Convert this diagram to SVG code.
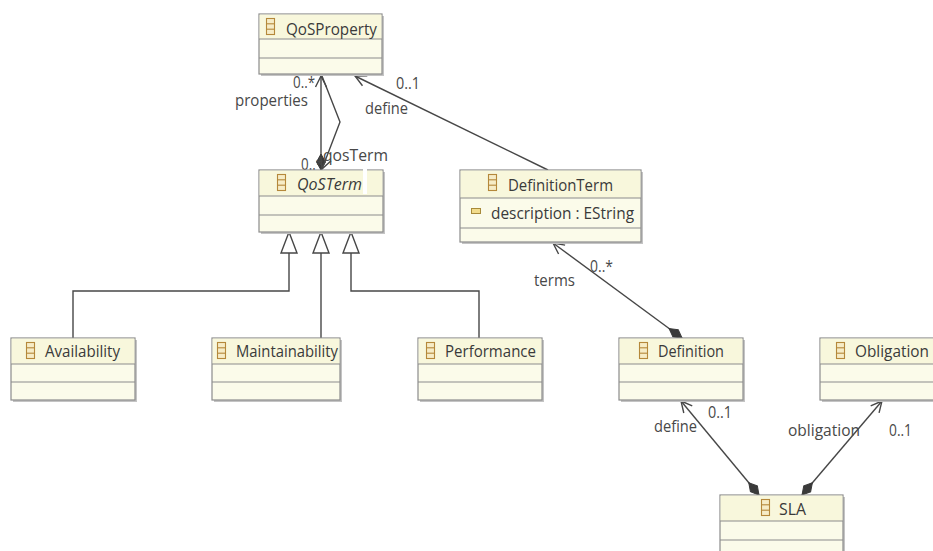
<svg xmlns="http://www.w3.org/2000/svg" xmlns:xlink="http://www.w3.org/1999/xlink" width="933" height="551" viewBox="0 0 933 551">
  <style>
    .shadow { fill: #c4c4c4; }
    .box { fill: #fbfbea; stroke: #8c8c8c; stroke-width: 1.2; }
    .head { fill: #f8f7dc; }
    .div { stroke: #8c8c8c; stroke-width: 1.2; }
    .name { font-family: "Open Sans", "Noto Sans", sans-serif; font-size: 17px; fill: #3a3a3a; }
    .attr { font-family: "Open Sans", "Noto Sans", sans-serif; font-size: 16px; fill: #3a3a3a; }
    .lbl { font-family: "Open Sans", "Noto Sans", sans-serif; font-size: 16px; fill: #484848; }
    .conn { fill: none; stroke: #474747; stroke-width: 1.4; }
    .gen { fill: #ffffff; stroke: #474747; stroke-width: 1.4; }
    .ci rect, .ci line { fill: #f6ecc6; stroke: #b5883a; stroke-width: 1.1; }
  </style>
  <defs>
    <g id="classIcon" class="ci">
      <rect x="0.5" y="0.5" width="8" height="16"/>
      <line x1="0.5" y1="5.8" x2="8.5" y2="5.8"/>
      <line x1="0.5" y1="11.2" x2="8.5" y2="11.2"/>
    </g>
    <marker id="openArrow" markerUnits="userSpaceOnUse" markerWidth="14" markerHeight="14" viewBox="-12 -7 14 14" refX="0" refY="0" orient="auto">
      <path d="M -11 -5.5 L 0 0 L -11 5.5" fill="none" stroke="#474747" stroke-width="1.4"/>
    </marker>
    <marker id="diamond" markerUnits="userSpaceOnUse" markerWidth="20" markerHeight="12" viewBox="-1 -6 20 12" refX="0" refY="0" orient="auto">
      <path d="M 0 0 L 8 -4.5 L 16 0 L 8 4.5 Z" fill="#3a3a3a" stroke="#3a3a3a" stroke-width="1"/>
    </marker>
  </defs>

  <!-- connectors: associations, containments, generalizations -->
  <g id="connectors">
    <!-- QoSTerm.properties -> QoSProperty -->
    <line class="conn" x1="321" y1="170" x2="321" y2="76" marker-start="url(#diamond)" marker-end="url(#openArrow)"/>
    <!-- QoSProperty.qosTerm -> QoSTerm -->
    <polyline class="conn" points="322,76 340,122 322,169" marker-end="url(#openArrow)"/>
    <!-- DefinitionTerm.define -> QoSProperty -->
    <line class="conn" x1="548" y1="170" x2="355" y2="76" marker-end="url(#openArrow)"/>
    <!-- Definition.terms -> DefinitionTerm -->
    <line class="conn" x1="682" y1="338" x2="553" y2="243" marker-start="url(#diamond)" marker-end="url(#openArrow)"/>
    <!-- SLA.define -> Definition -->
    <line class="conn" x1="759" y1="495" x2="681" y2="401" marker-start="url(#diamond)" marker-end="url(#openArrow)"/>
    <!-- SLA.obligation -> Obligation -->
    <line class="conn" x1="802" y1="495" x2="882" y2="401" marker-start="url(#diamond)" marker-end="url(#openArrow)"/>
    <!-- generalizations to QoSTerm -->
    <path class="conn" d="M289,253 V291 H73 V338"/>
    <path class="conn" d="M321,253 V338"/>
    <path class="conn" d="M351,253 V291 H479 V338"/>
    <polygon class="gen" points="289,232 281,253 297,253"/>
    <polygon class="gen" points="321,232 313,253 329,253"/>
    <polygon class="gen" points="351,232 343,253 359,253"/>
  </g>

  <!-- connector end labels -->
  <g id="labels">
    <text class="lbl" x="293" y="88" textLength="22" lengthAdjust="spacingAndGlyphs">0..*</text>
    <text class="lbl" x="235" y="106" textLength="73" lengthAdjust="spacingAndGlyphs">properties</text>
    <text class="lbl" x="396" y="89" textLength="24" lengthAdjust="spacingAndGlyphs">0..1</text>
    <text class="lbl" x="365" y="114" textLength="43" lengthAdjust="spacingAndGlyphs">define</text>
    <text class="lbl" x="301" y="170" textLength="22" lengthAdjust="spacingAndGlyphs">0..*</text>
    <text class="lbl" x="323" y="161" textLength="65" lengthAdjust="spacingAndGlyphs">qosTerm</text>
    <text class="lbl" x="590" y="272" textLength="23" lengthAdjust="spacingAndGlyphs">0..*</text>
    <text class="lbl" x="534" y="286" textLength="41" lengthAdjust="spacingAndGlyphs">terms</text>
    <text class="lbl" x="654" y="432" textLength="43" lengthAdjust="spacingAndGlyphs">define</text>
    <text class="lbl" x="708" y="418" textLength="24" lengthAdjust="spacingAndGlyphs">0..1</text>
    <text class="lbl" x="788" y="436" textLength="72" lengthAdjust="spacingAndGlyphs">obligation</text>
    <text class="lbl" x="889" y="436" textLength="23" lengthAdjust="spacingAndGlyphs">0..1</text>
  </g>

  <!-- classes -->
  <g id="QoSProperty">
    <rect class="shadow" x="261" y="16" width="123" height="60"/>
    <rect class="box" x="259" y="14" width="123" height="60"/>
    <rect class="head" x="259.6" y="14.6" width="121.8" height="24.4"/>
    <line class="div" x1="259" y1="39" x2="382" y2="39"/>
    <line class="div" x1="259" y1="58" x2="382" y2="58"/>
    <use xlink:href="#classIcon" x="266" y="18"/>
    <text class="name" x="286" y="35" textLength="91" lengthAdjust="spacingAndGlyphs">QoSProperty</text>
  </g>

  <g id="QoSTerm">
    <rect class="shadow" x="261" y="172" width="124" height="62"/>
    <rect class="box" x="259" y="170" width="124" height="62"/>
    <rect class="head" x="259.6" y="170.6" width="122.8" height="25.4"/>
    <line class="div" x1="259" y1="196" x2="383" y2="196"/>
    <line class="div" x1="259" y1="215" x2="383" y2="215"/>
    <use xlink:href="#classIcon" x="277" y="174"/>
    <text class="name" x="297" y="190" font-style="italic" textLength="65" lengthAdjust="spacingAndGlyphs">QoSTerm</text>
    <rect x="363" y="167" width="4" height="27" fill="#ffffff"/>
  </g>

  <g id="DefinitionTerm">
    <rect class="shadow" x="462" y="172" width="181" height="72"/>
    <rect class="box" x="460" y="170" width="181" height="72"/>
    <rect class="head" x="460.6" y="170.6" width="179.8" height="27.4"/>
    <line class="div" x1="460" y1="198" x2="641" y2="198"/>
    <line class="div" x1="460" y1="228" x2="641" y2="228"/>
    <use xlink:href="#classIcon" x="488" y="174"/>
    <text class="name" x="508" y="191" textLength="105" lengthAdjust="spacingAndGlyphs">DefinitionTerm</text>
    <rect x="471.5" y="208.5" width="9" height="5" fill="#f2dc8c" stroke="#a88a3a" stroke-width="1"/>
    <text class="attr" x="491" y="219" textLength="143" lengthAdjust="spacingAndGlyphs">description : EString</text>
  </g>

  <g id="Availability">
    <rect class="shadow" x="13" y="340" width="124" height="62"/>
    <rect class="box" x="11" y="338" width="124" height="62"/>
    <rect class="head" x="11.6" y="338.6" width="122.8" height="25.4"/>
    <line class="div" x1="11" y1="364" x2="135" y2="364"/>
    <line class="div" x1="11" y1="382" x2="135" y2="382"/>
    <use xlink:href="#classIcon" x="26" y="342"/>
    <text class="name" x="45" y="357" textLength="75" lengthAdjust="spacingAndGlyphs">Availability</text>
  </g>

  <g id="Maintainability">
    <rect class="shadow" x="214" y="340" width="128" height="62"/>
    <rect class="box" x="212" y="338" width="128" height="62"/>
    <rect class="head" x="212.6" y="338.6" width="126.8" height="25.4"/>
    <line class="div" x1="212" y1="364" x2="340" y2="364"/>
    <line class="div" x1="212" y1="382" x2="340" y2="382"/>
    <use xlink:href="#classIcon" x="217" y="342"/>
    <text class="name" x="236" y="357" textLength="102" lengthAdjust="spacingAndGlyphs">Maintainability</text>
  </g>

  <g id="Performance">
    <rect class="shadow" x="420" y="340" width="124" height="62"/>
    <rect class="box" x="418" y="338" width="124" height="62"/>
    <rect class="head" x="418.6" y="338.6" width="122.8" height="25.4"/>
    <line class="div" x1="418" y1="364" x2="542" y2="364"/>
    <line class="div" x1="418" y1="382" x2="542" y2="382"/>
    <use xlink:href="#classIcon" x="426" y="342"/>
    <text class="name" x="445" y="357" textLength="91" lengthAdjust="spacingAndGlyphs">Performance</text>
  </g>

  <g id="Definition">
    <rect class="shadow" x="621" y="340" width="124" height="62"/>
    <rect class="box" x="619" y="338" width="124" height="62"/>
    <rect class="head" x="619.6" y="338.6" width="122.8" height="25.4"/>
    <line class="div" x1="619" y1="364" x2="743" y2="364"/>
    <line class="div" x1="619" y1="382" x2="743" y2="382"/>
    <use xlink:href="#classIcon" x="639" y="342"/>
    <text class="name" x="658" y="357" textLength="66" lengthAdjust="spacingAndGlyphs">Definition</text>
  </g>

  <g id="Obligation">
    <rect class="shadow" x="822" y="340" width="124" height="62"/>
    <rect class="box" x="820" y="338" width="124" height="62"/>
    <rect class="head" x="820.6" y="338.6" width="122.8" height="25.4"/>
    <line class="div" x1="820" y1="364" x2="944" y2="364"/>
    <line class="div" x1="820" y1="382" x2="944" y2="382"/>
    <use xlink:href="#classIcon" x="836" y="342"/>
    <text class="name" x="855" y="357" textLength="74" lengthAdjust="spacingAndGlyphs">Obligation</text>
  </g>

  <g id="SLA">
    <rect class="shadow" x="722" y="497" width="123" height="62"/>
    <rect class="box" x="720" y="495" width="123" height="62"/>
    <rect class="head" x="720.6" y="495.6" width="121.8" height="25.4"/>
    <line class="div" x1="720" y1="521" x2="843" y2="521"/>
    <line class="div" x1="720" y1="540" x2="843" y2="540"/>
    <use xlink:href="#classIcon" x="761" y="499"/>
    <text class="name" x="779" y="515" textLength="27" lengthAdjust="spacingAndGlyphs">SLA</text>
  </g>
</svg>
